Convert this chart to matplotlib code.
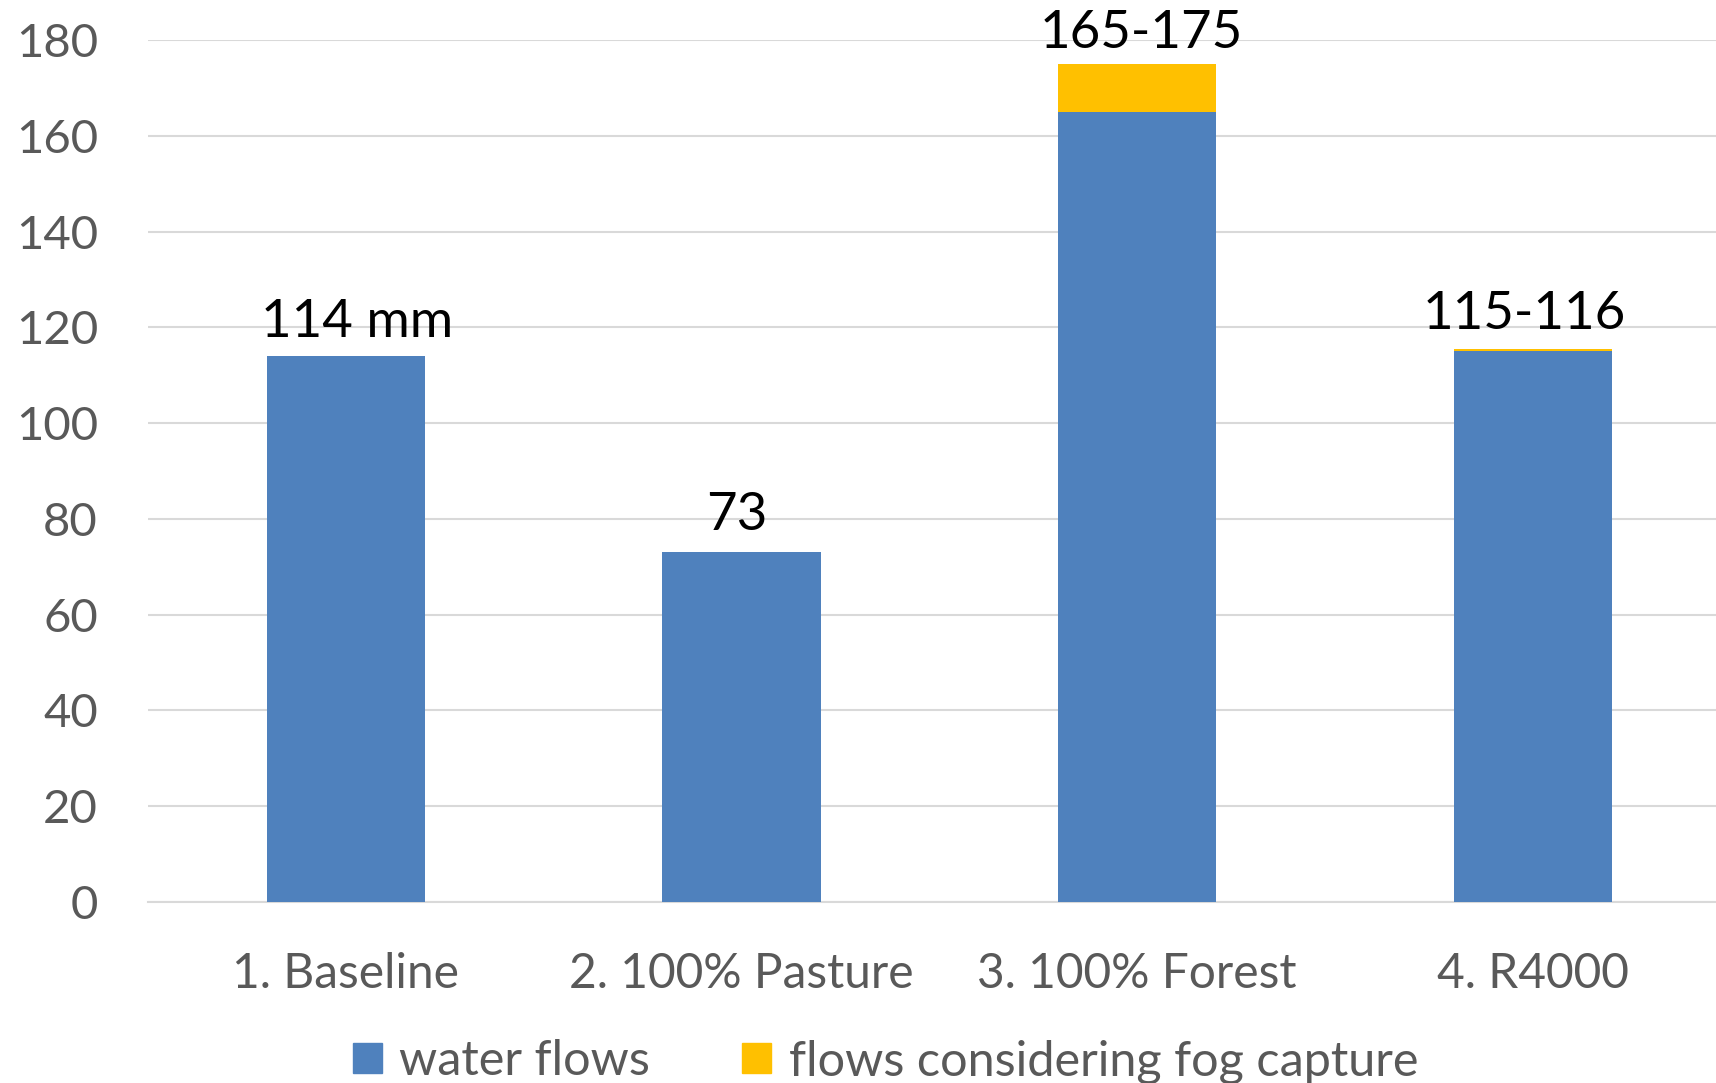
import matplotlib
matplotlib.use("Agg")
import matplotlib.pyplot as plt
from matplotlib.patches import Patch

categories = ["1. Baseline", "2. 100% Pasture", "3. 100% Forest", "4. R4000"]
water_flows = [114, 73, 165, 115]
fog_capture = [0, 0, 10, 0.4]
bar_labels = ["114 mm", "73", "165-175", "115-116"]
yticks = [0, 20, 40, 60, 80, 100, 120, 140, 160, 180]

BLUE = "#4F81BD"
YELLOW = "#FFC000"
GRAY = "#595959"
GRID = "#D9D9D9"

plt.rcParams['font.family'] = ['Lato', 'DejaVu Sans']

fig = plt.figure(figsize=(17.16, 10.83), dpi=100)
ax = fig.add_axes([0.0862, 0.1671, 0.9223, 0.7960])

x = list(range(len(categories)))
ax.bar(x, water_flows, width=0.4, color=BLUE, zorder=3)
ax.bar(x, fog_capture, width=0.4, bottom=water_flows, color=YELLOW, zorder=3)

ax.set_xlim(-0.5, len(categories) - 0.5)
ax.set_ylim(0, 180)
ax.set_yticks(yticks)
ax.yaxis.grid(True, color=GRID, linewidth=1.5, zorder=0)
ax.set_axisbelow(True)
for s in ["top", "right", "left"]:
    ax.spines[s].set_visible(False)
ax.spines["bottom"].set_color(GRID)
ax.spines["bottom"].set_linewidth(1.5)
ax.tick_params(axis="y", length=0, pad=36, labelsize=34, labelcolor=GRAY)
ax.tick_params(axis="x", length=0, pad=36, labelsize=34.5, labelcolor=GRAY)
ax.set_xticks(x)
ax.set_xticklabels(categories)

# label placement offsets (points): horizontal nudge, vertical gap
label_dx = [8, -3, 3, -6]
label_dy = [7, 10, 5, 8]
for xi, w, f, lab, dx, dy in zip(x, water_flows, fog_capture, bar_labels, label_dx, label_dy):
    ax.annotate(lab, (xi, w + f), xytext=(dx, dy), textcoords="offset points",
                ha="center", va="bottom", fontsize=38, color="black",
                annotation_clip=False)

handles = [Patch(color=BLUE, label="water flows"),
           Patch(color=YELLOW, label="flows considering fog capture")]
fig.legend(handles=handles, loc="center", bbox_to_anchor=(0.516, 0.020),
           ncol=2, frameon=False, fontsize=35, labelcolor=GRAY,
           handlelength=0.6, handleheight=0.6, handletextpad=0.35,
           columnspacing=1.9, borderpad=0)

fig.savefig("out.png", dpi=100)
